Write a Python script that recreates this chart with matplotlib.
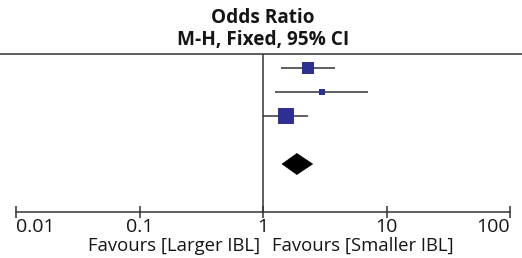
import matplotlib
matplotlib.use("Agg")
import matplotlib.pyplot as plt
from matplotlib.patches import Polygon
from matplotlib.lines import Line2D
import numpy as np

# Data
studies = ["Study 1", "Study 2", "Study 3"]
odds_ratio = [2.32, 2.99, 1.54]
ci_lower = [1.40, 1.25, 1.00]
ci_upper = [3.83, 7.12, 2.30]
weights = [31.0, 6.3, 62.7]
total_or = 1.88
total_lower = 1.43
total_upper = 2.52
tick_values = [0.01, 0.1, 1, 10, 100]
tick_labels = ["0.01", "0.1", "1", "10", "100"]
title_lines = ["Odds Ratio", "M-H, Fixed, 95% CI"]
favours_left = "Favours [Larger IBL]"
favours_right = "Favours [Smaller IBL]"

W, H = 522, 258
plt.rcParams['font.family'] = ['Open Sans', 'DejaVu Sans']
fig = plt.figure(figsize=(W / 100, H / 100), dpi=100)
fig.patch.set_facecolor("white")

ax_top_px = 54
ax_bot_px = 211.5
ax = fig.add_axes([16 / W, 1 - ax_bot_px / H, (510 - 16) / W, (ax_bot_px - ax_top_px) / H])
ax.set_xscale("log")
ax.set_xlim(0.01, 100)
rows = [1, 2, 3]
total_row = 5
ax.set_ylim(1 + (ax_bot_px - 68) / 24, 1 - (68 - ax_top_px) / 24)

line_col = "#333333"
sq_col = "#2D3091"
txt_col = "#151515"

for r, o, lo, hi, w in zip(rows, odds_ratio, ci_lower, ci_upper, weights):
    ax.plot([lo, hi], [r, r], color=line_col, lw=1.1, solid_capstyle="butt", zorder=2)
    size_px = 2.1 * np.sqrt(w)
    ax.plot([o], [r], marker="s", ms=size_px * 0.72, color=sq_col, mec=sq_col, mew=0, zorder=3)

h = 10.5 / 24
diamond = Polygon([(total_lower, total_row), (total_or, total_row - h),
                   (total_upper, total_row), (total_or, total_row + h)],
                  closed=True, facecolor="black", edgecolor="black", lw=0.5, zorder=3)
ax.add_patch(diamond)

ax.axvline(1, color=line_col, lw=1.1, zorder=1)

for s in ["top", "left", "right"]:
    ax.spines[s].set_visible(False)
ax.spines["bottom"].set_color(line_col)
ax.spines["bottom"].set_linewidth(1.1)
ax.set_yticks([])
ax.set_xticks(tick_values)
ax.set_xticklabels(tick_labels)
ax.minorticks_off()
ax.tick_params(axis="x", direction="inout", length=9, width=1.1, color=line_col,
               labelsize=14, pad=0.5, labelcolor=txt_col)
lbls = ax.get_xticklabels()
lbls[0].set_horizontalalignment("left")
lbls[-1].set_horizontalalignment("right")

# top rule
fig.add_artist(Line2D([0, 1], [1 - ax_top_px / H] * 2, color=line_col, lw=1.1, transform=fig.transFigure))

x1 = 263 / W
fig.text(x1, 1 - 18 / H, title_lines[0], ha="center", va="center", fontsize=13.7,
         fontweight="bold", color=txt_col)
fig.text(x1, 1 - 40 / H, title_lines[1], ha="center", va="center", fontsize=13.7,
         fontweight="bold", color=txt_col)

fig.text(260 / W, 1 - 246 / H, favours_left, ha="right", va="center", fontsize=13.3, color=txt_col)
fig.text(272 / W, 1 - 246 / H, favours_right, ha="left", va="center", fontsize=13.3, color=txt_col)

fig.savefig("out.png", dpi=100, facecolor="white")
